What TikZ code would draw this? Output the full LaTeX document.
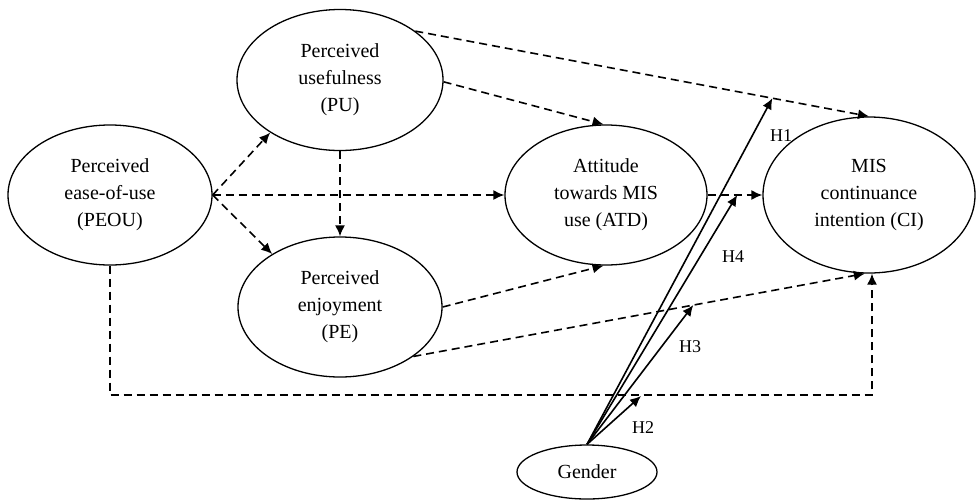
\documentclass[tikz,border=0pt]{standalone}
\usepackage{fontspec}
\setmainfont{Liberation Serif}
\usetikzlibrary{shapes.geometric,arrows.meta,calc}
\begin{document}
\begin{tikzpicture}[x=1pt,y=-1pt,
  construct/.style={draw,ellipse,line width=1.3pt,inner sep=0pt,align=center,
    font=\fontsize{20}{27}\selectfont},
  dline/.style={line width=1.6pt,dash pattern=on 8pt off 5pt,-{Latex[length=11pt,width=10pt]}},
  sline/.style={line width=1.6pt,-{Latex[length=11pt,width=10pt]}},
  hlab/.style={font=\fontsize{18}{20}\selectfont,inner sep=0pt}]
\useasboundingbox (0,0) rectangle (977,499);
\node[construct,minimum width=204pt,minimum height=140pt] (peou) at (110,195) {Perceived\\ease-of-use\\(PEOU)};
\node[construct,minimum width=206pt,minimum height=141pt] (pu) at (340,80) {Perceived\\usefulness\\(PU)};
\node[construct,minimum width=204pt,minimum height=140pt] (pe) at (340,307) {Perceived\\enjoyment\\(PE)};
\node[construct,minimum width=202pt,minimum height=140pt] (atd) at (606,195) {Attitude\\towards MIS\\use (ATD)};
\node[construct,minimum width=212pt,minimum height=156pt] (ci) at (869,195) {MIS\\continuance\\intention (CI)};
\node[construct,minimum width=140pt,minimum height=54pt] (gen) at (587,472) {Gender};
% dashed structural paths
\draw[dline] (peou.east) -- (pu.217);
\draw[dline] (peou.east) -- (pe.142);
\draw[dline] (peou.east) -- (atd.west);
\draw[dline] (pu.south) -- (pe.north);
\draw[dline] (pu.33) -- (ci.north);
\draw[dline] (pu.-1) -- (atd.92);
\draw[dline] (pe.east) -- (atd.-92);
\draw[dline] (pe.-34) -- (ci.-93);
\draw[dline] (atd.east) -- (ci.west);
\coordinate (br) at (872,395);
\draw[dline] (peou.south) |- (br) -- (br |- ci.south);
% moderation
\coordinate (h1) at ($(pu.33)!0.787!(ci.north)$);
\coordinate (h4) at ($(atd.east)!0.54!(ci.west)$);
\coordinate (h3) at ($(pe.-34)!0.62!(ci.-93)$);
\coordinate (h2) at (641,396);
\draw[sline] (gen.north) -- (h1);
\draw[sline] (gen.north) -- (h4);
\draw[sline] (gen.north) -- (h3);
\draw[sline] (gen.north) -- (h2);
\node[hlab] (l1) at (781,136) {H1};
\node[hlab] (l4) at (733,257) {H4};
\node[hlab] (l3) at (690,347) {H3};
\node[hlab] (l2) at (643,428) {H2};
\end{tikzpicture}
\end{document}
